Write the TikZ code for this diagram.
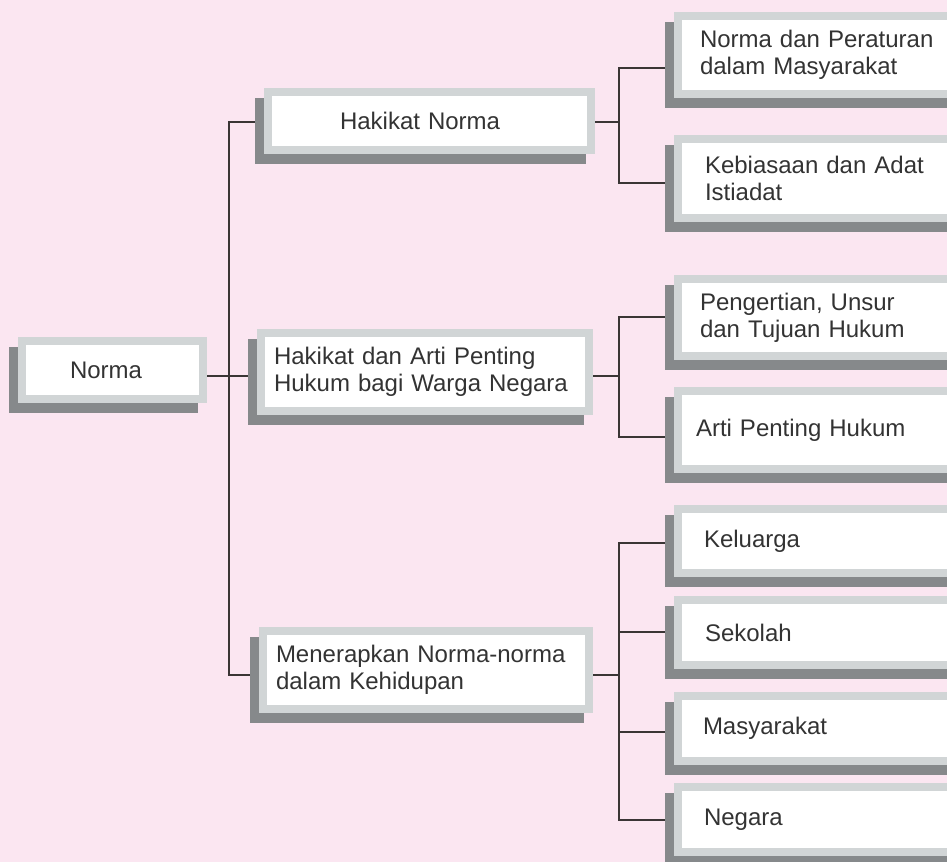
\documentclass[tikz,border=0pt]{standalone}
\usepackage{fontspec}
\setmainfont{Liberation Sans}
\pgfdeclarelayer{paper}
\pgfdeclarelayer{wires}
\pgfsetlayers{paper,wires,main}
\definecolor{paperpink}{HTML}{FBE6F1}
\definecolor{rimgray}{HTML}{D1D5D6}
\definecolor{shadegray}{HTML}{86898B}
\definecolor{inkgray}{HTML}{333333}
\definecolor{wiregray}{HTML}{3A3535}
\tikzset{
  topic/.style={draw=rimgray, line width=6pt, fill=white, inner sep=0pt, outer sep=0pt,
    preaction={draw=shadegray, fill=shadegray, line width=6pt,
      transform canvas={shift={(-6.75pt,-7.5pt)}}},
    text=inkgray, align=left, font=\fontsize{18pt}{20.25pt}\selectfont},
  rightcol/.style={topic, minimum width=223.5pt},
  link/.style={draw=wiregray, line width=0.8pt}
}
\begin{document}
\begin{tikzpicture}[x=0.75pt, y=-0.75pt]
\useasboundingbox (0,0) rectangle (947,862);
\begin{pgfonlayer}{paper}
  \fill[paperpink] (0,0) rectangle (947,862);
\end{pgfonlayer}
\clip (0,0) rectangle (947,862);

% root
\node[topic, minimum width=135.75pt, minimum height=43.5pt, text width=63.75pt]
  (norma) at (112.5,370) {Norma};

% second level
\node[topic, minimum width=242.25pt, minimum height=43.5pt, text width=134.25pt]
  (hn) at (429.5,121) {Hakikat Norma};
\node[topic, minimum width=246pt, minimum height=58.5pt, text width=226.5pt]
  (ha) at (425,372) {Hakikat dan Arti Penting\\Hukum bagi Warga Negara};
\node[topic, minimum width=244.5pt, minimum height=58.5pt, text width=225pt]
  (mn) at (426,670) {Menerapkan Norma-norma\\dalam Kehidupan};

% third level
\node[rightcol, minimum height=58.5pt, text width=190.5pt]
  (np) at (827,55) {Norma dan Peraturan\\dalam Masyarakat};
\node[rightcol, minimum height=59.25pt, text width=183pt]
  (kb) at (827,178.5) {Kebiasaan dan Adat\\Istiadat};
\node[rightcol, minimum height=57.75pt, text width=190.5pt]
  (pg) at (827,317.5) {Pengertian, Unsur\\dan Tujuan Hukum};
\node[rightcol, minimum height=58.5pt, text width=196.5pt]
  (ap) at (827,430) {Arti Penting Hukum};
\node[rightcol, minimum height=48pt, text width=184.5pt]
  (kl) at (827,541) {Keluarga};
\node[rightcol, minimum height=48.75pt, text width=183pt]
  (sk) at (827,632.5) {Sekolah};
\node[rightcol, minimum height=48.75pt, text width=186pt]
  (ms) at (827,728.5) {Masyarakat};
\node[rightcol, minimum height=48.75pt, text width=184.5pt]
  (ng) at (827,819.5) {Negara};

% junction points
\coordinate (t1) at (229,122);
\coordinate (t2) at (229,376);
\coordinate (t3) at (229,675);
\coordinate (a0) at (619,122);
\coordinate (a1) at (619,68);
\coordinate (a2) at (619,183);
\coordinate (b0) at (619,376);
\coordinate (b1) at (619,317);
\coordinate (b2) at (619,437);
\coordinate (c0) at (619,675);
\coordinate (c1) at (619,543);
\coordinate (c2) at (619,632);
\coordinate (c3) at (619,732);
\coordinate (c4) at (619,820);

\begin{pgfonlayer}{wires}
  % trunk from the root
  \draw[link] (hn.west |- t1) -- (t1) -- (t3) -- (mn.west |- t3);
  \draw[link] (norma.east |- t2) -- (ha.west |- t2);
  % Hakikat Norma branch
  \draw[link] (hn.east |- a0) -- (a0);
  \draw[link] (np.west |- a1) -- (a1) -- (a2) -- (kb.west |- a2);
  % hukum branch
  \draw[link] (ha.east |- b0) -- (b0);
  \draw[link] (pg.west |- b1) -- (b1) -- (b2) -- (ap.west |- b2);
  % penerapan branch
  \draw[link] (mn.east |- c0) -- (c0);
  \draw[link] (kl.west |- c1) -- (c1) -- (c4) -- (ng.west |- c4);
  \draw[link] (c2) -- (sk.west |- c2);
  \draw[link] (c3) -- (ms.west |- c3);
\end{pgfonlayer}
\end{tikzpicture}
\end{document}
